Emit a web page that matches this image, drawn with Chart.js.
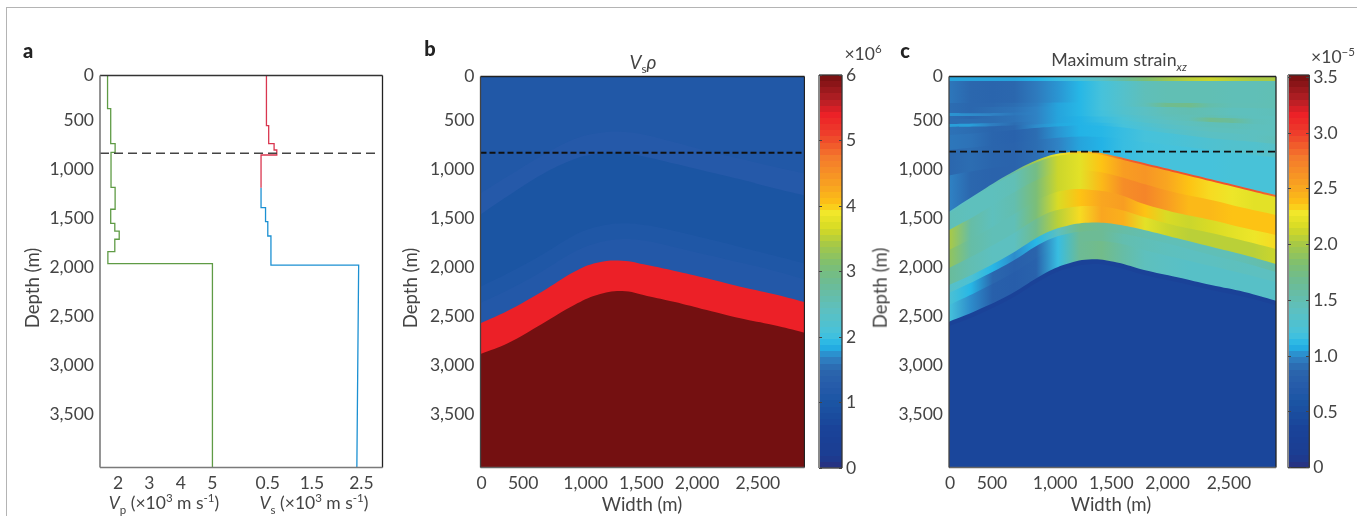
<!DOCTYPE html>
<html>
<head>
<meta charset="utf-8">
<title>Fold model</title>
<script src="https://cdn.jsdelivr.net/npm/chart.js@4"></script>
<style>
    html, body { margin: 0; background: #fff; }
    #page { position: relative; width: 1357px; height: 516px; overflow: hidden; font-family: Lato, sans-serif; color: #444; }
    #rule { position: absolute; left: 6px; top: 7px; width: 1351px; height: 509px; border-top: 1.5px solid #b4b4b4; border-left: 1.5px solid #b4b4b4; box-sizing: border-box; }
    canvas { position: absolute; top: 0; }
    .txt { position: absolute; white-space: nowrap; transform: translate(-50%, -50%); font-size: 17.5px; line-height: 1; }
    .rot { transform: translate(-50%, -50%) rotate(-90deg); }
    .axis { font-size: 18.6px; }
    .tag { font-size: 20px; font-weight: 900; color: #222; }
    .txt sub, .txt sup { font-size: 11.5px; line-height: 0; }
    .title { font-size: 17.8px; }
</style>
</head>
<body>
<div id="page">
    <div id="rule"></div>
    <canvas id="profile" width="400" height="516" style="left:0"></canvas>
    <canvas id="impedance" width="405" height="516" style="left:400px"></canvas>
    <canvas id="impedanceBar" width="90" height="516" style="left:800px"></canvas>
    <canvas id="strain" width="395" height="516" style="left:885px"></canvas>
    <canvas id="strainBar" width="77" height="516" style="left:1280px"></canvas>

    <div class="txt tag" style="left:28px;top:50px">a</div>
    <div class="txt tag" style="left:430px;top:48px">b</div>
    <div class="txt tag" style="left:905px;top:50px">c</div>

    <div class="txt rot axis" style="left:32px;top:288px">Depth (m)</div>
    <div class="txt rot axis" style="left:410px;top:288px">Depth (m)</div>
    <div class="txt rot axis" style="left:880px;top:288px">Depth (m)</div>

    <div class="txt" style="left:164px;top:503px"><i>V</i><sub>p</sub> (×10<sup>3</sup> m s<sup>-1</sup>)</div>
    <div class="txt" style="left:314px;top:503px"><i>V</i><sub>s</sub> (×10<sup>3</sup> m s<sup>-1</sup>)</div>
    <div class="txt axis" style="left:642px;top:504px">Width (m)</div>
    <div class="txt axis" style="left:1111px;top:504px">Width (m)</div>

    <div class="txt title" style="left:643px;top:61px;font-size:19px"><i>V</i><sub>s</sub><i>ρ</i></div>
    <div class="txt title" style="left:1119px;top:60px">Maximum strain<sub><i>xz</i></sub></div>
    <div class="txt" style="left:863px;top:54px">×10<sup>6</sup></div>
    <div class="txt" style="left:1333px;top:57px">×10<sup>−5</sup></div>
</div>

<script>
const depthTickPos = [46, 500, 1000, 1500, 2000, 2500, 3000, 3500];
const depthTicks = ['0', '500', '1,000', '1,500', '2,000', '2,500', '3,000', '3,500'];
const widthTickPos = [10, 375, 925, 1415, 1905, 2440];
const widthTicks = ['0', '500', '1,000', '1,500', '2,000', '2,500'];
const vpTickPos = [2, 3, 4, 5];
const vpTicks = ['2', '3', '4', '5'];
const vsTickPos = [0.52, 1.5, 2.6];
const vsTicks = ['0.5', '1.5', '2.5'];

// panel a: each value holds from its depth down to the next depth
const vpDepths = [46, 385, 742, 830, 1187, 1411, 1554, 1633, 1717, 1844, 1966, 4046];
const vpValues = [1.67, 1.77, 1.91, 1.78, 1.91, 1.77, 1.9, 2.04, 1.9, 1.68, 5.0];
const vsUpperDepths = [46, 558, 742, 806, 857, 1191];
const vsUpperValues = [0.49, 0.54, 0.66, 0.72, 0.37];
const vsLowerDepths = [1191, 1395, 1538, 1684, 1980, 4046];
const vsLowerValues = [0.37, 0.47, 0.52, 0.59, 2.54];
const vsBottomValue = 2.5;
const dashDepthA = 840;
const dashDepthB = 830;
const dashDepthC = 818;

// panels b and c: horizons sampled at these widths
const widthPts = [0, 240, 540, 825, 1025, 1245, 1465, 1700, 1990, 2285, 2575, 2850];

const rhoTops = [
    [51, 51, 51, 51, 51, 51, 51, 51, 51, 51, 51, 51],
    [1243, 1070, 860, 690, 630, 615, 650, 720, 810, 890, 970, 1040],
    [1460, 1270, 1050, 895, 840, 830, 875, 940, 1020, 1100, 1190, 1265],
    [2196, 2060, 1870, 1670, 1585, 1549, 1570, 1625, 1705, 1790, 1875, 1958],
    [2362, 2230, 2040, 1840, 1750, 1710, 1730, 1790, 1870, 1950, 2030, 2120],
    [2569, 2441, 2247, 2043, 1951, 1931, 1975, 2033, 2110, 2196, 2270, 2352],
    [2883, 2773, 2577, 2383, 2281, 2240, 2290, 2349, 2434, 2518, 2587, 2665]
];
const rhoValues = [1.12, 1.2, 1.0, 1.1, 1.16, 5.4, 6.0];

// panel c: strain sampled along each band at these widths
const valuePts = [0, 190, 380, 570, 760, 950, 1140, 1330, 1520, 1710, 1900, 2090, 2280, 2470, 2660, 2850];

const strainTops = [
    [51, 51, 51, 51, 51, 51, 51, 51, 51, 51, 51, 51],
    [97, 97, 97, 97, 97, 97, 97, 97, 97, 97, 97, 97],
    [321, 321, 320, 318, 316, 316, 317, 319, 321, 323, 325, 327],
    [362, 362, 360, 356, 354, 354, 356, 360, 364, 368, 372, 376],
    [423, 425, 420, 410, 400, 395, 400, 420, 440, 445, 450, 455],
    [454, 455, 450, 440, 432, 430, 435, 450, 465, 472, 480, 490],
    [485, 485, 478, 468, 460, 458, 462, 480, 500, 515, 530, 545],
    [536, 530, 520, 505, 495, 490, 495, 520, 545, 570, 590, 610],
    [566, 562, 550, 535, 525, 520, 530, 560, 590, 615, 640, 660],
    [648, 630, 600, 570, 555, 550, 565, 600, 640, 680, 710, 740],
    [801, 770, 730, 690, 670, 665, 680, 720, 760, 800, 840, 880],
    [1060, 1010, 960, 920, 900, 900, 900, 920, 960, 1000, 1040, 1080],
    [1431, 1250, 1036, 878, 827, 818, 867, 933, 1015, 1100, 1183, 1261],
    [1450, 1270, 1056, 898, 847, 838, 887, 953, 1035, 1120, 1203, 1281],
    [1617, 1464, 1250, 1077, 1015, 1015, 1066, 1148, 1240, 1311, 1393, 1464],
    [1821, 1679, 1474, 1281, 1209, 1209, 1250, 1352, 1444, 1515, 1597, 1668],
    [2005, 1862, 1668, 1464, 1393, 1372, 1403, 1485, 1577, 1648, 1730, 1811],
    [2178, 2051, 1862, 1658, 1576, 1542, 1561, 1617, 1702, 1788, 1872, 1964],
    [2260, 2128, 1944, 1740, 1658, 1628, 1648, 1699, 1781, 1872, 1954, 2046],
    [2383, 2250, 2066, 1862, 1770, 1730, 1750, 1821, 1903, 1985, 2066, 2148],
    [2553, 2439, 2270, 2066, 1964, 1916, 1949, 2026, 2100, 2179, 2250, 2339],
    [2600, 2490, 2320, 2116, 2014, 1966, 1999, 2076, 2150, 2229, 2300, 2385]
];
const strainValues = [
    [1.05, 1.05, 1.05, 1.05, 1.08, 1.15, 1.25, 1.4, 1.6, 1.8, 1.95, 2.05, 2.1, 2.05, 2.0, 2.0],
    [0.94, 0.88, 0.86, 0.88, 0.95, 1.02, 1.1, 1.2, 1.32, 1.44, 1.47, 1.47, 1.47, 1.45, 1.45, 1.47],
    [0.9, 0.88, 0.88, 0.9, 0.96, 1.05, 1.1, 1.2, 1.32, 1.45, 1.68, 1.7, 1.52, 1.46, 1.46, 1.47],
    [0.9, 0.88, 0.9, 0.92, 0.98, 1.05, 1.1, 1.2, 1.3, 1.38, 1.46, 1.48, 1.46, 1.42, 1.42, 1.44],
    [1.02, 1.0, 0.98, 0.94, 0.98, 1.05, 1.1, 1.18, 1.3, 1.38, 1.44, 1.46, 1.48, 1.44, 1.42, 1.42],
    [0.9, 0.88, 0.9, 0.92, 0.98, 1.05, 1.1, 1.18, 1.27, 1.35, 1.42, 1.45, 1.68, 1.62, 1.44, 1.42],
    [0.9, 0.9, 0.9, 0.92, 0.98, 1.05, 1.08, 1.15, 1.24, 1.33, 1.38, 1.42, 1.44, 1.44, 1.42, 1.42],
    [1.04, 1.04, 0.96, 0.9, 0.98, 1.05, 1.08, 1.15, 1.22, 1.28, 1.35, 1.38, 1.42, 1.42, 1.4, 1.42],
    [0.92, 0.9, 0.86, 0.88, 1.0, 1.06, 1.08, 1.12, 1.2, 1.25, 1.3, 1.35, 1.38, 1.38, 1.4, 1.44],
    [0.94, 0.92, 0.86, 0.82, 0.9, 1.02, 1.08, 1.1, 1.15, 1.2, 1.22, 1.25, 1.28, 1.3, 1.3, 1.35],
    [0.88, 0.9, 0.86, 0.84, 0.9, 0.98, 1.05, 1.08, 1.15, 1.18, 1.2, 1.2, 1.2, 1.22, 1.22, 1.22],
    [0.98, 0.88, 0.84, 0.84, 0.9, 0.96, 1.05, 1.08, 1.15, 1.18, 1.2, 1.2, 1.2, 1.22, 1.22, 1.22],
    [1.4, 1.4, 1.45, 1.6, 2.0, 2.25, 2.35, 2.5, 2.85, 2.9, 2.9, 2.9, 2.9, 2.9, 2.9, 2.8],
    [1.45, 1.42, 1.42, 1.46, 1.72, 2.1, 2.2, 2.35, 2.55, 2.6, 2.5, 2.35, 2.3, 2.25, 2.2, 2.2],
    [2.0, 1.55, 1.42, 1.5, 1.78, 2.1, 2.2, 2.4, 2.65, 2.7, 2.55, 2.4, 2.4, 2.35, 2.35, 2.35],
    [1.9, 1.55, 1.45, 1.45, 1.78, 2.15, 2.35, 2.5, 2.55, 2.35, 2.15, 2.1, 2.15, 2.2, 2.25, 2.3],
    [1.62, 1.48, 1.4, 1.4, 1.68, 2.05, 2.3, 2.5, 2.45, 2.2, 2.1, 2.05, 2.05, 2.05, 2.05, 2.1],
    [1.35, 1.25, 1.1, 1.0, 1.1, 1.4, 1.7, 1.65, 1.55, 1.5, 1.45, 1.45, 1.45, 1.45, 1.5, 1.55],
    [1.25, 1.1, 0.88, 0.78, 0.85, 1.15, 1.65, 1.65, 1.5, 1.45, 1.42, 1.4, 1.4, 1.42, 1.4, 1.4],
    [1.2, 1.0, 0.8, 0.75, 0.82, 1.15, 1.65, 1.7, 1.55, 1.42, 1.38, 1.35, 1.35, 1.35, 1.35, 1.35],
    [0.3, 0.3, 0.3, 0.3, 0.3, 0.3, 0.3, 0.3, 0.3, 0.3, 0.3, 0.3, 0.3, 0.3, 0.3, 0.3],
    [0.39, 0.39, 0.39, 0.39, 0.39, 0.39, 0.39, 0.39, 0.39, 0.39, 0.39, 0.39, 0.39, 0.39, 0.39, 0.39]
];

const rhoBarPos = [0, 1, 2, 3, 4, 5, 6];
const rhoBarTicks = ['0', '1', '2', '3', '4', '5', '6'];
const strainBarPos = [0, 0.5, 1, 1.5, 2, 2.5, 3, 3.5];
const strainBarTicks = ['0', '0.5', '1.0', '1.5', '2.0', '2.5', '3.0', '3.5'];

// colour bar sampled by eye, fraction of full scale to colour
const cmapStops = [0, 0.03, 0.1, 0.17, 0.2, 0.25, 0.28, 0.31, 0.34, 0.4, 0.47, 0.52, 0.57, 0.61, 0.65, 0.67, 0.72, 0.79, 0.85, 0.9, 0.94, 1];
const cmapColors = ['#2a2f7e', '#1b3d92', '#1a4399', '#1b56a4', '#2559a9', '#2b66ad', '#2f82c4', '#22b5e8', '#45c2dc', '#5dc0c0', '#6cbb96', '#7fbf6f', '#a8c945', '#d6da24', '#f2e82a', '#fdc414', '#f8a221', '#f47a2c', '#ee3e2b', '#ec2027', '#b01e24', '#741011'];

const textColor = '#444';
const tickFont = { family: 'Lato', size: 17.5 };

function hexToRgb(hex) {
    return [1, 3, 5].map(i => parseInt(hex.slice(i, i + 2), 16));
}

function cmapColor(frac) {
    let i = 0;
    while (i < cmapStops.length - 2 && frac > cmapStops[i + 1]) i++;
    const t = Math.min(1, Math.max(0, (frac - cmapStops[i]) / (cmapStops[i + 1] - cmapStops[i])));
    const a = hexToRgb(cmapColors[i]);
    const b = hexToRgb(cmapColors[i + 1]);
    return `rgb(${a.map((v, k) => Math.round(v + (b[k] - v) * t)).join(',')})`;
}

function fixedAxis(positions, labels, extra) {
    return Object.assign({
        afterBuildTicks: scale => { scale.ticks = positions.map(value => ({ value })); },
        grid: { display: false, drawTicks: false },
        border: { display: false }
    }, extra, {
        ticks: Object.assign({
            callback: (value, index) => labels[index],
            autoSkip: false,
            maxRotation: 0,
            color: textColor,
            font: tickFont,
            padding: 5
        }, extra.ticks)
    });
}

function stepPoints(depths, values) {
    const pts = [];
    values.forEach((v, i) => {
        pts.push({ x: v, y: depths[i] });
        pts.push({ x: v, y: depths[i + 1] });
    });
    return pts;
}

function bandPoints(tops) {
    return tops.map((d, i) => ({ x: widthPts[i], y: d }));
}

function dashedDataset(depth, xMin, xMax, color, width, dash, xAxisID) {
    return {
        type: 'line',
        data: [{ x: xMin, y: depth }, { x: xMax, y: depth }],
        xAxisID: xAxisID || 'x',
        borderColor: color,
        borderWidth: width,
        borderDash: dash,
        pointRadius: 0,
        fill: false,
        order: -1
    };
}

// frame drawn side by side so each edge keeps its own colour
const framePlugin = {
    id: 'frame',
    afterDatasetsDraw(chart, args, opts) {
        const { ctx, chartArea: a } = chart;
        const side = (x0, y0, x1, y1, color, width) => {
            ctx.strokeStyle = color;
            ctx.lineWidth = width;
            ctx.beginPath();
            ctx.moveTo(x0, y0);
            ctx.lineTo(x1, y1);
            ctx.stroke();
        };
        ctx.save();
        side(a.left, a.top, a.right, a.top, opts.top, 1.3);
        side(a.right, a.top, a.right, a.bottom, opts.right, 1.3);
        side(a.left, a.bottom, a.right, a.bottom, opts.bottom, opts.bottomWidth || 1.3);
        side(a.left, a.top, a.left, a.bottom, opts.left, opts.leftWidth || 1.3);
        ctx.restore();
    }
};

// both x axes of panel a print their labels on one row, the zero height axis would clip its own
const sharedRowPlugin = {
    id: 'sharedRow',
    afterLayout(chart) {
        chart.scales.x.bottom = chart.height;
    }
};

function baseOptions(area, canvasHeight, canvasWidth, frame) {
    return {
        responsive: false,
        animation: false,
        events: [],
        layout: { padding: { top: area.top, right: canvasWidth - area.right, left: 0, bottom: 0 } },
        plugins: { legend: { display: false }, tooltip: { enabled: false }, frame }
    };
}

const darkFrame = { top: '#222', right: '#222', bottom: '#666', left: '#444' };

new Chart(document.getElementById('profile'), {
    type: 'scatter',
    plugins: [framePlugin, sharedRowPlugin],
    data: {
        datasets: [
            { data: stepPoints(vpDepths, vpValues), xAxisID: 'xVp', showLine: true, borderColor: '#5f9b45', borderWidth: 1.3, pointRadius: 0 },
            { data: stepPoints(vsUpperDepths, vsUpperValues), xAxisID: 'x', showLine: true, borderColor: '#d9364f', borderWidth: 1.3, pointRadius: 0 },
            { data: stepPoints(vsLowerDepths, vsLowerValues).slice(0, -1).concat({ x: vsBottomValue, y: 4046 }), xAxisID: 'x', showLine: true, borderColor: '#1b90d2', borderWidth: 1.3, pointRadius: 0 },
            dashedDataset(dashDepthA, -3.21, 2.96, '#444', 1.5, [9, 5])
        ]
    },
    options: {
        ...baseOptions({ top: 75.5, right: 382.5 }, 516, 400, { top: '#333', right: '#222', bottom: '#7a7a7a', left: '#7a7a7a', bottomWidth: 1.6, leftWidth: 1.6 }),
        scales: {
            y: fixedAxis(depthTickPos, depthTicks, {
                reverse: true, min: 46, max: 4046, position: 'left',
                afterFit: s => { s.width = 100; }, ticks: { padding: 6 }
            }),
            x: fixedAxis(vsTickPos, vsTicks, {
                type: 'linear', min: -3.21, max: 3.07, position: 'bottom', weight: 0,
                afterFit: s => { s.height = 0; }, ticks: {}
            }),
            xVp: fixedAxis(vpTickPos, vpTicks, {
                type: 'linear', min: 1.43, max: 10.4, position: 'bottom', weight: 1,
                afterFit: s => { s.height = 48.5; }, ticks: {}
            })
        }
    }
});

function fieldScales(yAxisWidth) {
    return {
        y: fixedAxis(depthTickPos, depthTicks, {
            reverse: true, min: 51, max: 4041, position: 'left',
            afterFit: s => { s.width = yAxisWidth; }, ticks: { padding: 6 }
        }),
        x: fixedAxis(widthTickPos, widthTicks, {
            type: 'linear', min: 0, max: 2850, position: 'bottom',
            afterFit: s => { s.height = 48.5; }, ticks: {}
        })
    };
}

new Chart(document.getElementById('impedance'), {
    type: 'line',
    plugins: [framePlugin],
    data: {
        datasets: rhoTops.map((tops, i) => ({
            data: bandPoints(tops),
            backgroundColor: cmapColor(rhoValues[i] / 6),
            fill: { value: 4041 },
            borderWidth: 0,
            pointRadius: 0,
            tension: 0.4,
            order: rhoTops.length - i
        })).concat(dashedDataset(dashDepthB, 0, 2850, '#111', 2, [6, 3]))
    },
    options: {
        ...baseOptions({ top: 76.5, right: 406.5 }, 516, 407, darkFrame),
        scales: fieldScales(80.5)
    }
});

function strainGradient(ctx, values) {
    const chart = ctx.chart;
    if (!chart.chartArea) return cmapColor(values[0] / 3.5);
    const x = chart.scales.x;
    const g = chart.ctx.createLinearGradient(x.getPixelForValue(0), 0, x.getPixelForValue(2850), 0);
    valuePts.forEach((w, i) => g.addColorStop(w / 2850, cmapColor(values[i] / 3.5)));
    return g;
}

new Chart(document.getElementById('strain'), {
    type: 'line',
    plugins: [framePlugin],
    data: {
        datasets: strainTops.map((tops, i) => ({
            data: bandPoints(tops),
            backgroundColor: ctx => strainGradient(ctx, strainValues[i]),
            fill: { value: 4041 },
            borderWidth: 0,
            pointRadius: 0,
            tension: 0.4,
            order: strainTops.length - i
        })).concat(dashedDataset(dashDepthC, 0, 2850, '#111', 1.6, [7, 4]))
    },
    options: {
        ...baseOptions({ top: 76.5, right: 391 }, 516, 395, darkFrame),
        scales: fieldScales(64)
    }
});

function colorBar(id, area, canvasWidth, maxValue, positions, labels, dash, scaleTop) {
    return new Chart(document.getElementById(id), {
        type: 'bar',
        plugins: [framePlugin],
        data: {
            labels: [''],
            datasets: [{
                data: [[0, maxValue]],
                categoryPercentage: 1,
                barPercentage: 1,
                borderWidth: 0,
                backgroundColor: ctx => {
                    const chart = ctx.chart;
                    if (!chart.chartArea) return '#888';
                    const g = chart.ctx.createLinearGradient(0, chart.chartArea.bottom, 0, chart.chartArea.top);
                    for (let i = 0; i < 64; i++) {
                        g.addColorStop(i / 64, cmapColor((i + 0.5) / 64));
                        g.addColorStop((i + 1) / 64, cmapColor((i + 0.5) / 64));
                    }
                    return g;
                }
            }]
        },
        options: {
            ...baseOptions(area, 516, canvasWidth, { top: '#333', right: '#333', bottom: '#333', left: '#8a8a8a', leftWidth: 2 }),
            layout: { padding: { top: area.top, bottom: 516 - area.bottom, left: area.left, right: 0 } },
            scales: {
                x: { display: false },
                y: fixedAxis(positions, labels, {
                    min: 0, max: scaleTop, position: 'right',
                    afterFit: s => { s.width = canvasWidth - area.right; },
                    grid: { display: true, drawTicks: false, z: 1, color: '#444', lineWidth: 1 },
                    border: { display: false, dash },
                    ticks: { padding: 4 }
                })
            }
        }
    });
}

colorBar('impedanceBar', { top: 75, bottom: 468, left: 19, right: 42 }, 90, 6, rhoBarPos, rhoBarTicks, [3, 17, 3], 6);
colorBar('strainBar', { top: 75, bottom: 467.7, left: 8, right: 29.3 }, 77, 3.52, strainBarPos, strainBarTicks, [3, 15, 3], 3.52);
</script>
</body>
</html>
